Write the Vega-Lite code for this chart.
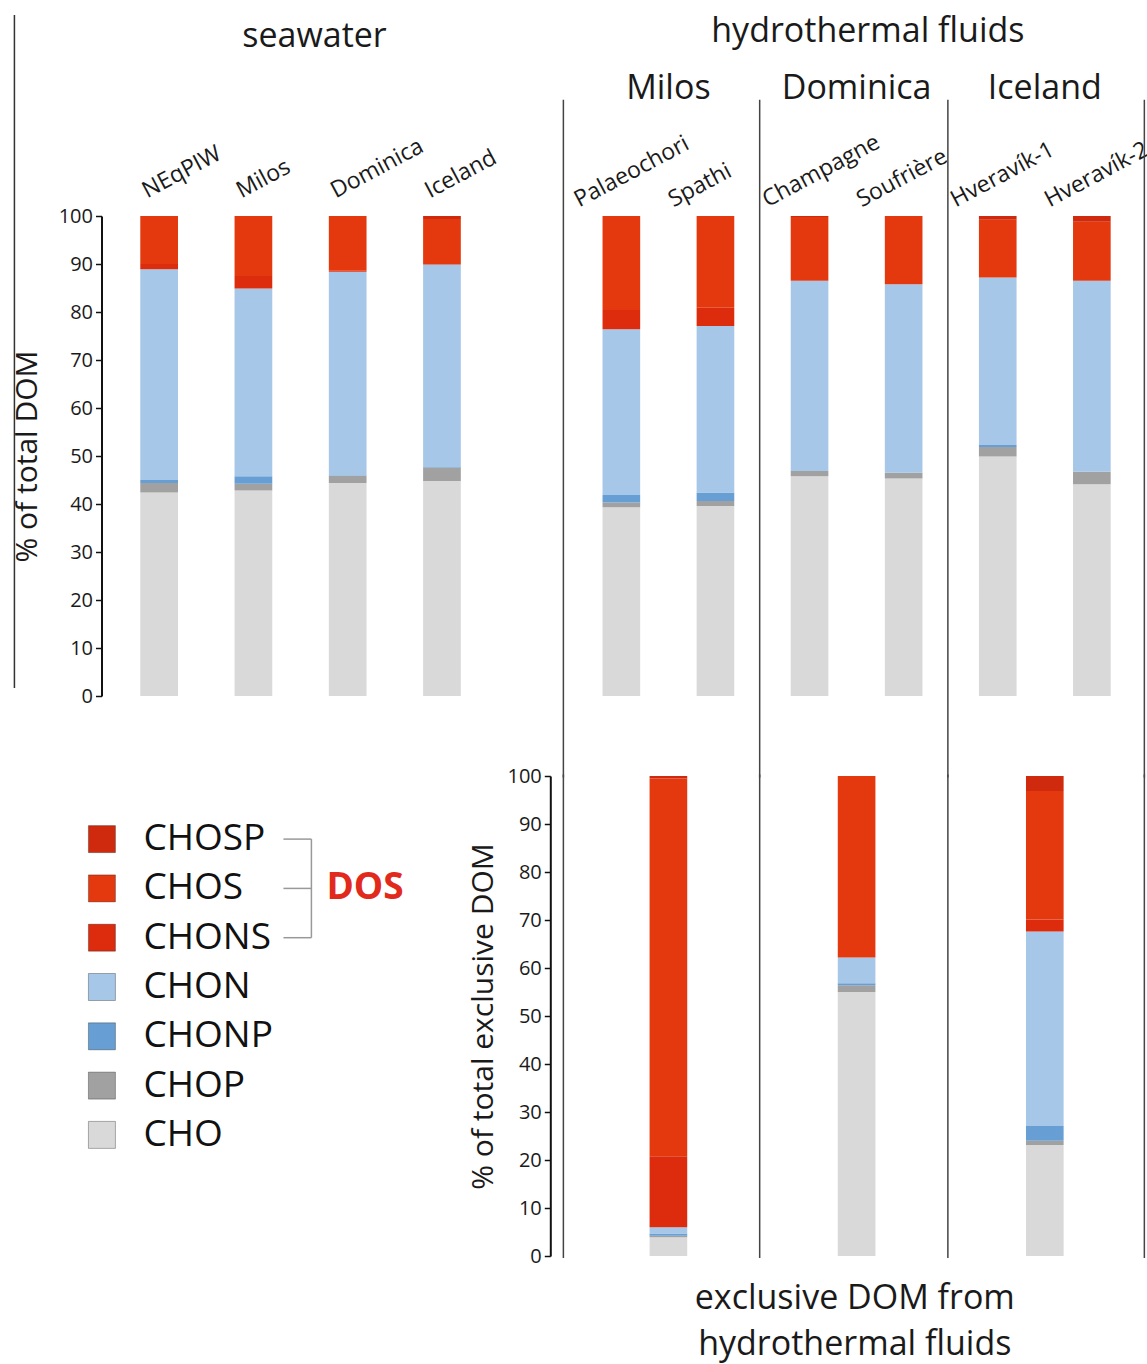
{
  "$schema": "https://vega.github.io/schema/vega-lite/v6.json",
  "autosize": {"type": "pad"},
  "padding": {"left": 12, "top": 14, "right": 0, "bottom": 6},
  "background": "white",
  "bounds": "flush",
  "columns": 2,
  "spacing": {"row": 80, "column": 84.3},
  "config": {
    "view": {"stroke": null},
    "font": "Open Sans",
    "axis": {"grid": false, "labelFont": "Open Sans", "titleFont": "Open Sans"}
  },
  "datasets": {
    "top": [
      {"sample": "NEqPIW", "set": "seawater", "formula": "CHO", "pct": 42.4},
      {"sample": "NEqPIW", "set": "seawater", "formula": "CHOP", "pct": 2.0},
      {"sample": "NEqPIW", "set": "seawater", "formula": "CHONP", "pct": 0.6},
      {"sample": "NEqPIW", "set": "seawater", "formula": "CHON", "pct": 43.9},
      {"sample": "NEqPIW", "set": "seawater", "formula": "CHONS", "pct": 1.1},
      {"sample": "NEqPIW", "set": "seawater", "formula": "CHOS", "pct": 10.0},
      {"sample": "Milos", "set": "seawater", "formula": "CHO", "pct": 42.8},
      {"sample": "Milos", "set": "seawater", "formula": "CHOP", "pct": 1.4},
      {"sample": "Milos", "set": "seawater", "formula": "CHONP", "pct": 1.6},
      {"sample": "Milos", "set": "seawater", "formula": "CHON", "pct": 39.1},
      {"sample": "Milos", "set": "seawater", "formula": "CHONS", "pct": 2.6},
      {"sample": "Milos", "set": "seawater", "formula": "CHOS", "pct": 12.5},
      {"sample": "Dominica", "set": "seawater", "formula": "CHO", "pct": 44.4},
      {"sample": "Dominica", "set": "seawater", "formula": "CHOP", "pct": 1.5},
      {"sample": "Dominica", "set": "seawater", "formula": "CHONP", "pct": 0.1},
      {"sample": "Dominica", "set": "seawater", "formula": "CHON", "pct": 42.4},
      {"sample": "Dominica", "set": "seawater", "formula": "CHONS", "pct": 0.2},
      {"sample": "Dominica", "set": "seawater", "formula": "CHOS", "pct": 11.4},
      {"sample": "Iceland", "set": "seawater", "formula": "CHO", "pct": 44.8},
      {"sample": "Iceland", "set": "seawater", "formula": "CHOP", "pct": 2.8},
      {"sample": "Iceland", "set": "seawater", "formula": "CHONP", "pct": 0.1},
      {"sample": "Iceland", "set": "seawater", "formula": "CHON", "pct": 42.2},
      {"sample": "Iceland", "set": "seawater", "formula": "CHONS", "pct": 0.1},
      {"sample": "Iceland", "set": "seawater", "formula": "CHOS", "pct": 9.4},
      {"sample": "Iceland", "set": "seawater", "formula": "CHOSP", "pct": 0.6},
      {"sample": "Palaeochori", "set": "hydrothermal", "formula": "CHO", "pct": 39.3},
      {"sample": "Palaeochori", "set": "hydrothermal", "formula": "CHOP", "pct": 1.0},
      {"sample": "Palaeochori", "set": "hydrothermal", "formula": "CHONP", "pct": 1.6},
      {"sample": "Palaeochori", "set": "hydrothermal", "formula": "CHON", "pct": 34.5},
      {"sample": "Palaeochori", "set": "hydrothermal", "formula": "CHONS", "pct": 4.0},
      {"sample": "Palaeochori", "set": "hydrothermal", "formula": "CHOS", "pct": 19.6},
      {"sample": "Spathi", "set": "hydrothermal", "formula": "CHO", "pct": 39.6},
      {"sample": "Spathi", "set": "hydrothermal", "formula": "CHOP", "pct": 1.0},
      {"sample": "Spathi", "set": "hydrothermal", "formula": "CHONP", "pct": 1.8},
      {"sample": "Spathi", "set": "hydrothermal", "formula": "CHON", "pct": 34.7},
      {"sample": "Spathi", "set": "hydrothermal", "formula": "CHONS", "pct": 3.8},
      {"sample": "Spathi", "set": "hydrothermal", "formula": "CHOS", "pct": 19.1},
      {"sample": "Champagne", "set": "hydrothermal", "formula": "CHO", "pct": 45.8},
      {"sample": "Champagne", "set": "hydrothermal", "formula": "CHOP", "pct": 1.1},
      {"sample": "Champagne", "set": "hydrothermal", "formula": "CHON", "pct": 39.6},
      {"sample": "Champagne", "set": "hydrothermal", "formula": "CHOS", "pct": 13.3},
      {"sample": "Champagne", "set": "hydrothermal", "formula": "CHOSP", "pct": 0.2},
      {"sample": "Soufrière", "set": "hydrothermal", "formula": "CHO", "pct": 45.3},
      {"sample": "Soufrière", "set": "hydrothermal", "formula": "CHOP", "pct": 1.2},
      {"sample": "Soufrière", "set": "hydrothermal", "formula": "CHON", "pct": 39.3},
      {"sample": "Soufrière", "set": "hydrothermal", "formula": "CHOS", "pct": 14.2},
      {"sample": "Hveravík-1", "set": "hydrothermal", "formula": "CHO", "pct": 49.9},
      {"sample": "Hveravík-1", "set": "hydrothermal", "formula": "CHOP", "pct": 2.0},
      {"sample": "Hveravík-1", "set": "hydrothermal", "formula": "CHONP", "pct": 0.4},
      {"sample": "Hveravík-1", "set": "hydrothermal", "formula": "CHON", "pct": 34.9},
      {"sample": "Hveravík-1", "set": "hydrothermal", "formula": "CHOS", "pct": 12.0},
      {"sample": "Hveravík-1", "set": "hydrothermal", "formula": "CHOSP", "pct": 0.8},
      {"sample": "Hveravík-2", "set": "hydrothermal", "formula": "CHO", "pct": 44.1},
      {"sample": "Hveravík-2", "set": "hydrothermal", "formula": "CHOP", "pct": 2.6},
      {"sample": "Hveravík-2", "set": "hydrothermal", "formula": "CHON", "pct": 39.8},
      {"sample": "Hveravík-2", "set": "hydrothermal", "formula": "CHOS", "pct": 12.3},
      {"sample": "Hveravík-2", "set": "hydrothermal", "formula": "CHOSP", "pct": 1.2}
    ],
    "bottom": [
      {"site": "Milos", "formula": "CHO", "pct": 3.9},
      {"site": "Milos", "formula": "CHOP", "pct": 0.3},
      {"site": "Milos", "formula": "CHONP", "pct": 0.5},
      {"site": "Milos", "formula": "CHON", "pct": 1.3},
      {"site": "Milos", "formula": "CHONS", "pct": 14.8},
      {"site": "Milos", "formula": "CHOS", "pct": 78.7},
      {"site": "Milos", "formula": "CHOSP", "pct": 0.5},
      {"site": "Dominica", "formula": "CHO", "pct": 55.0},
      {"site": "Dominica", "formula": "CHOP", "pct": 1.4},
      {"site": "Dominica", "formula": "CHONP", "pct": 0.4},
      {"site": "Dominica", "formula": "CHON", "pct": 5.4},
      {"site": "Dominica", "formula": "CHOS", "pct": 37.8},
      {"site": "Iceland", "formula": "CHO", "pct": 23.1},
      {"site": "Iceland", "formula": "CHOP", "pct": 0.9},
      {"site": "Iceland", "formula": "CHONP", "pct": 3.1},
      {"site": "Iceland", "formula": "CHON", "pct": 40.5},
      {"site": "Iceland", "formula": "CHONS", "pct": 2.5},
      {"site": "Iceland", "formula": "CHOS", "pct": 26.8},
      {"site": "Iceland", "formula": "CHOSP", "pct": 3.1}
    ],
    "classes": [
      {"formula": "CHOSP"}, {"formula": "CHOS"}, {"formula": "CHONS"}, {"formula": "CHON"},
      {"formula": "CHONP"}, {"formula": "CHOP"}, {"formula": "CHO"}
    ]
  },
  "concat": [
    {
      "width": 377.1,
      "height": 480,
      "layer": [
        {
          "data": {"name": "top"},
          "transform": [
            {"filter": "datum.set === 'seawater'"},
            {"calculate": "indexof(['CHO','CHOP','CHONP','CHON','CHONS','CHOS','CHOSP'], datum.formula)", "as": "rank"}
          ],
          "mark": {"type": "bar", "width": {"band": 0.4}},
          "encoding": {
            "x": {
              "field": "sample", "type": "nominal",
              "scale": {"domain": ["NEqPIW", "Milos", "Dominica", "Iceland"], "paddingInner": 0, "paddingOuter": 0},
              "axis": {"orient": "top", "domain": false, "ticks": false, "tickSize": 0, "labelAngle": -28, "labelAlign": "left", "labelBaseline": "alphabetic", "labelFontSize": 23, "labelColor": "#1a1a1a", "labelPadding": 18, "labelOffset": -12, "labelOverlap": false, "labelLimit": 0, "title": null}
            },
            "y": {
              "field": "pct", "type": "quantitative", "stack": "zero",
              "scale": {"domain": [0, 100], "nice": false},
              "axis": {"values": [0, 10, 20, 30, 40, 50, 60, 70, 80, 90, 100], "offset": 10.5, "domainColor": "#111", "domainWidth": 2, "tickColor": "#111", "tickWidth": 1.5, "tickSize": 6, "labelFontSize": 20, "labelColor": "#1a1a1a", "labelPadding": 3, "title": "% of total DOM", "titleFontSize": 30, "titleFontWeight": "normal", "titleColor": "#1a1a1a", "titlePadding": 16}
            },
            "color": {
              "field": "formula", "type": "nominal",
              "scale": {"domain": ["CHOSP", "CHOS", "CHONS", "CHON", "CHONP", "CHOP", "CHO"], "range": ["#cf2a0e", "#e4390f", "#dc2b0d", "#a6c7e7", "#679fd4", "#a1a1a1", "#d9d9d9"]},
              "legend": null
            },
            "order": {"field": "rank", "type": "quantitative"}
          }
        },
        {
          "data": {"values": [{"label": "seawater"}]},
          "mark": {"type": "text", "fontSize": 34, "color": "#1a1a1a", "align": "center", "baseline": "middle"},
          "encoding": {
            "x": {"datum": "Dominica", "bandPosition": 0.148},
            "y": {"datum": 137.3},
            "text": {"field": "label"}
          }
        },
        {
          "data": {"values": [{}]},
          "mark": {"type": "rule", "color": "#333", "strokeWidth": 1.5},
          "encoding": {
            "x": {"datum": "NEqPIW", "bandPosition": -1.035},
            "y": {"datum": 141.9},
            "y2": {"datum": 1.67}
          }
        }
      ]
    },
    {
      "width": 564.6,
      "height": 480,
      "layer": [
        {
          "data": {"name": "top"},
          "transform": [
            {"filter": "datum.set === 'hydrothermal'"},
            {"calculate": "indexof(['CHO','CHOP','CHONP','CHON','CHONS','CHOS','CHOSP'], datum.formula)", "as": "rank"}
          ],
          "mark": {"type": "bar", "width": {"band": 0.4}},
          "encoding": {
            "x": {
              "field": "sample", "type": "nominal",
              "scale": {"domain": ["Palaeochori", "Spathi", "Champagne", "Soufrière", "Hveravík-1", "Hveravík-2"], "paddingInner": 0, "paddingOuter": 0},
              "axis": {"orient": "top", "domain": false, "ticks": false, "tickSize": 0, "labelAngle": -28, "labelAlign": "left", "labelBaseline": "alphabetic", "labelFontSize": 23, "labelColor": "#1a1a1a", "labelPadding": 9, "labelOffset": -42, "labelOverlap": false, "labelLimit": 0, "title": null}
            },
            "y": {
              "field": "pct", "type": "quantitative", "stack": "zero",
              "scale": {"domain": [0, 100], "nice": false},
              "axis": null
            },
            "color": {
              "field": "formula", "type": "nominal",
              "scale": {"domain": ["CHOSP", "CHOS", "CHONS", "CHON", "CHONP", "CHOP", "CHO"], "range": ["#cf2a0e", "#e4390f", "#dc2b0d", "#a6c7e7", "#679fd4", "#a1a1a1", "#d9d9d9"]},
              "legend": null
            },
            "order": {"field": "rank", "type": "quantitative"}
          }
        },
        {
          "data": {"values": [{"sample": "Champagne"}, {"sample": "Hveravík-1"}]},
          "mark": {"type": "rule", "color": "#444", "strokeWidth": 1.5},
          "encoding": {
            "x": {"field": "sample", "type": "nominal", "bandPosition": -0.03},
            "y": {"datum": 124.2, "axis": null},
            "y2": {"datum": -17}
          }
        },
        {
          "data": {"values": [{}]},
          "mark": {"type": "rule", "color": "#444", "strokeWidth": 1.5},
          "encoding": {
            "x": {"datum": "Palaeochori", "bandPosition": -0.116},
            "y": {"datum": 124.2, "axis": null},
            "y2": {"datum": -17}
          }
        },
        {
          "data": {"values": [{}]},
          "mark": {"type": "rule", "color": "#444", "strokeWidth": 1.5},
          "encoding": {
            "x": {"datum": "Hveravík-2", "bandPosition": 1.058},
            "y": {"datum": 124.2, "axis": null},
            "y2": {"datum": -17}
          }
        },
        {
          "data": {"values": [{"site": "Milos", "pair": "Spathi"}, {"site": "Dominica", "pair": "Soufrière"}, {"site": "Iceland", "pair": "Hveravík-2"}]},
          "mark": {"type": "text", "fontSize": 34, "color": "#1a1a1a", "align": "center", "baseline": "middle"},
          "encoding": {
            "x": {"field": "pair", "type": "nominal", "bandPosition": 0},
            "y": {"datum": 126.5, "axis": null},
            "text": {"field": "site"}
          }
        },
        {
          "data": {"values": [{"label": "hydrothermal fluids"}]},
          "mark": {"type": "text", "fontSize": 34, "color": "#1a1a1a", "align": "center", "baseline": "middle"},
          "encoding": {
            "x": {"datum": "Soufrière", "bandPosition": 0.12},
            "y": {"datum": 138.4, "axis": null},
            "text": {"field": "label"}
          }
        }
      ]
    },
    {
      "width": 377.1,
      "height": 443.7,
      "data": {"name": "classes"},
      "layer": [
        {
          "mark": {"type": "square", "size": 729, "filled": true, "opacity": 1, "stroke": "#000", "strokeOpacity": 0.3, "strokeWidth": 1},
          "encoding": {
            "x": {"datum": -2.67, "type": "quantitative", "scale": {"domain": [0, 100], "nice": false, "zero": false}, "axis": null},
            "y": {"field": "formula", "type": "nominal", "scale": {"type": "band", "domain": ["CHOSP", "CHOS", "CHONS", "CHON", "CHONP", "CHOP", "CHO"], "paddingInner": 0, "paddingOuter": 1, "align": 0.39}, "axis": null},
            "color": {
              "field": "formula", "type": "nominal",
              "scale": {"domain": ["CHOSP", "CHOS", "CHONS", "CHON", "CHONP", "CHOP", "CHO"], "range": ["#cf2a0e", "#e4390f", "#dc2b0d", "#a6c7e7", "#679fd4", "#a1a1a1", "#d9d9d9"]},
              "legend": null
            }
          }
        },
        {
          "mark": {"type": "text", "fontSize": 37, "color": "#111", "align": "left", "baseline": "middle"},
          "encoding": {
            "x": {"datum": 8.34, "type": "quantitative", "axis": null},
            "y": {"field": "formula", "type": "nominal", "axis": null},
            "text": {"field": "formula"}
          }
        },
        {
          "transform": [{"filter": "indexof(['CHOSP','CHOS','CHONS'], datum.formula) >= 0"}],
          "mark": {"type": "rule", "color": "#999", "strokeWidth": 1.5},
          "encoding": {
            "x": {"datum": 45.46, "type": "quantitative", "axis": null},
            "x2": {"datum": 52.88},
            "y": {"field": "formula", "type": "nominal", "axis": null}
          }
        },
        {
          "data": {"values": [{}]},
          "mark": {"type": "rule", "color": "#999", "strokeWidth": 1.5},
          "encoding": {
            "x": {"datum": 52.88, "type": "quantitative", "axis": null},
            "y": {"datum": "CHOSP", "type": "nominal", "axis": null},
            "y2": {"datum": "CHONS"}
          }
        },
        {
          "data": {"values": [{"label": "DOS"}]},
          "mark": {"type": "text", "fontSize": 37, "fontWeight": "bold", "color": "#e12a1c", "align": "left", "baseline": "middle"},
          "encoding": {
            "x": {"datum": 56.86, "type": "quantitative", "axis": null},
            "y": {"datum": "CHOS", "type": "nominal", "axis": null},
            "text": {"field": "label"}
          }
        }
      ]
    },
    {
      "width": 564.6,
      "height": 480,
      "layer": [
        {
          "data": {"name": "bottom"},
          "transform": [
            {"calculate": "indexof(['CHO','CHOP','CHONP','CHON','CHONS','CHOS','CHOSP'], datum.formula)", "as": "rank"}
          ],
          "mark": {"type": "bar", "width": {"band": 0.2}},
          "encoding": {
            "x": {
              "field": "site", "type": "nominal",
              "scale": {"domain": ["Milos", "Dominica", "Iceland"], "paddingInner": 0, "paddingOuter": 0},
              "axis": {"orient": "bottom", "labels": false, "ticks": false, "domain": false, "title": ["exclusive DOM from", "hydrothermal fluids"], "titleFontSize": 34, "titleFontWeight": "normal", "titleLineHeight": 46, "titlePadding": 25, "titleColor": "#1a1a1a", "titleX": 280}
            },
            "y": {
              "field": "pct", "type": "quantitative", "stack": "zero",
              "scale": {"domain": [0, 100], "nice": false},
              "axis": {"values": [0, 10, 20, 30, 40, 50, 60, 70, 80, 90, 100], "offset": 24, "domainColor": "#111", "domainWidth": 2, "tickColor": "#111", "tickWidth": 1.5, "tickSize": 6, "labelFontSize": 20, "labelColor": "#1a1a1a", "labelPadding": 3, "title": "% of total exclusive DOM", "titleFontSize": 30, "titleFontWeight": "normal", "titleColor": "#1a1a1a", "titlePadding": 8}
            },
            "color": {
              "field": "formula", "type": "nominal",
              "scale": {"domain": ["CHOSP", "CHOS", "CHONS", "CHON", "CHONP", "CHOP", "CHO"], "range": ["#cf2a0e", "#e4390f", "#dc2b0d", "#a6c7e7", "#679fd4", "#a1a1a1", "#d9d9d9"]},
              "legend": null
            },
            "order": {"field": "rank", "type": "quantitative"}
          }
        },
        {
          "data": {"values": [{"site": "Dominica"}, {"site": "Iceland"}]},
          "mark": {"type": "rule", "color": "#444", "strokeWidth": 1.5},
          "encoding": {
            "x": {"field": "site", "type": "nominal", "bandPosition": -0.015},
            "y": {"datum": 100.3},
            "y2": {"datum": -0.4}
          }
        },
        {
          "data": {"values": [{}]},
          "mark": {"type": "rule", "color": "#444", "strokeWidth": 1.5},
          "encoding": {
            "x": {"datum": "Milos", "bandPosition": -0.058},
            "y": {"datum": 100.3},
            "y2": {"datum": -0.4}
          }
        },
        {
          "data": {"values": [{}]},
          "mark": {"type": "rule", "color": "#444", "strokeWidth": 1.5},
          "encoding": {
            "x": {"datum": "Iceland", "bandPosition": 1.029},
            "y": {"datum": 100.3},
            "y2": {"datum": -0.4}
          }
        }
      ]
    }
  ]
}
